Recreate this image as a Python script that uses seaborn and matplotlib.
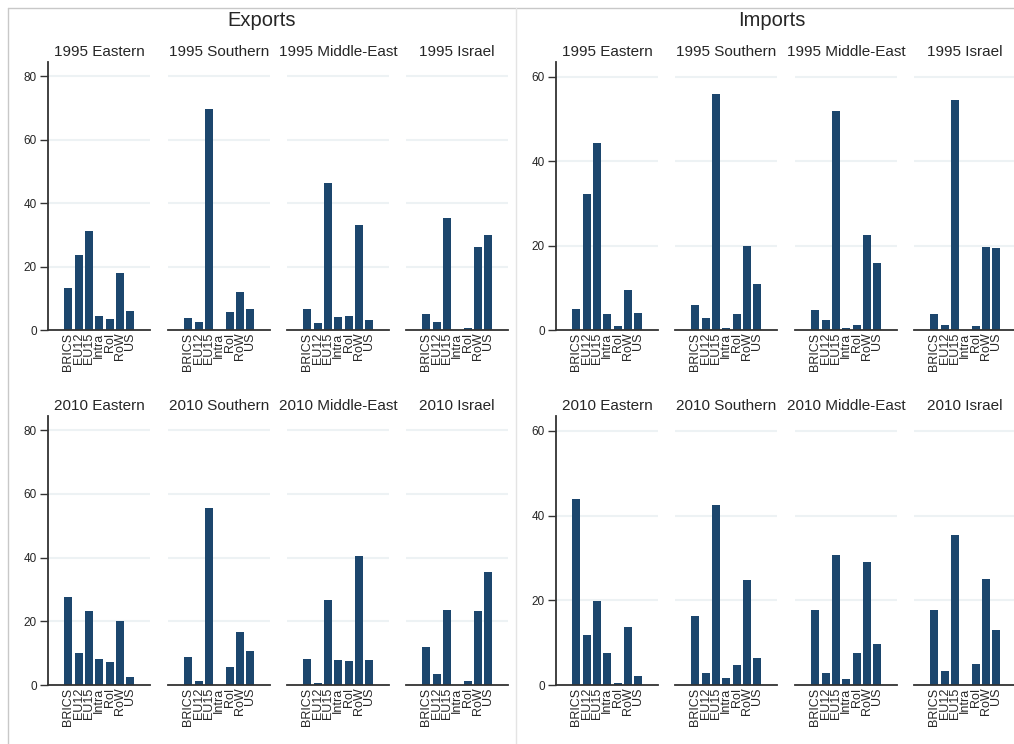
import seaborn as sns
import matplotlib.pyplot as plt
import matplotlib.lines as mlines

# ======================================
# DATA
# ======================================

partners = ["BRICS", "EU12", "EU15", "Intra", "RoI", "RoW", "US"]
regions = ["Eastern", "Southern", "Middle-East", "Israel"]
years = ["1995", "2010"]

# one row per region, values in partner order
exports_1995 = [
    [13.4, 23.5, 31.3, 4.5, 3.4, 18.1, 6.1],
    [3.7, 2.5, 69.7, 0.0, 5.6, 11.9, 6.7],
    [6.7, 2.2, 46.4, 4.0, 4.5, 33.2, 3.3],
    [5.2, 2.5, 35.2, 0.0, 0.5, 26.2, 30.0],
]
exports_2010 = [
    [27.5, 10.0, 23.3, 8.1, 7.3, 20.2, 2.6],
    [8.8, 1.1, 55.6, 0.0, 5.8, 16.6, 10.6],
    [8.1, 0.6, 26.7, 7.8, 7.4, 40.4, 7.7],
    [12.0, 3.5, 23.7, 0.0, 1.1, 23.3, 35.4],
]
imports_1995 = [
    [5.0, 32.2, 44.4, 3.8, 1.0, 9.4, 4.1],
    [6.0, 2.8, 56.0, 0.4, 3.9, 19.9, 10.9],
    [4.7, 2.4, 52.0, 0.4, 1.3, 22.5, 15.9],
    [3.9, 1.3, 54.6, 0.0, 1.0, 19.7, 19.4],
]
imports_2010 = [
    [44.0, 11.9, 19.9, 7.5, 0.5, 13.7, 2.1],
    [16.3, 2.8, 42.5, 1.7, 4.7, 24.8, 6.4],
    [17.7, 2.8, 30.6, 1.4, 7.5, 29.1, 9.6],
    [17.7, 3.2, 35.5, 0.0, 4.9, 25.0, 13.1],
]

# ======================================
# STYLE
# ======================================

sns.set_style("white")
plt.rcParams["font.family"] = ["Liberation Sans", "DejaVu Sans"]

BAR = "#1c466d"
GRID = "#edf2f4"
AXIS = "#333333"

W, H = 1014, 744
fig = plt.figure(figsize=(W / 100, H / 100), dpi=100)


def px_axes(x0, x1, ytop, ybot):
    return fig.add_axes([x0 / W, 1 - ybot / H, (x1 - x0) / W, (ybot - ytop) / H])


panels = [
    ("Exports", [exports_1995, exports_2010], [48, 168, 287, 406], 84.5,
     [0, 20, 40, 60, 80], 262),
    ("Imports", [imports_1995, imports_2010], [556, 675, 795, 914], 63.5,
     [0, 20, 40, 60], 772),
]
rows = [(62, 330), (416, 685)]
ax_w = 102

for name, data, lefts, ymax, yticks, title_x in panels:
    for r, (ytop, ybot) in enumerate(rows):
        for c, x0 in enumerate(lefts):
            ax = px_axes(x0, x0 + ax_w, ytop, ybot)
            sns.barplot(
                x=partners,
                y=data[r][c],
                ax=ax,
                color=BAR,
                width=0.78,
                saturation=1,
                linewidth=0,
            )
            ax.set_xlim(-1.95, 7.9)
            ax.set_ylim(0, ymax)
            ax.set_yticks(yticks)
            ax.yaxis.grid(True, color=GRID, linewidth=1.5)
            ax.set_axisbelow(True)
            for s in ["top", "right"]:
                ax.spines[s].set_visible(False)
            ax.spines["bottom"].set_color(AXIS)
            ax.spines["bottom"].set_linewidth(1.3)
            ax.tick_params(axis="x", length=0, pad=2, labelsize=9, rotation=90)
            for lab in ax.get_xticklabels():
                lab.set_verticalalignment("top")
            if c == 0:
                ax.spines["left"].set_color(AXIS)
                ax.spines["left"].set_linewidth(1.3)
                ax.tick_params(axis="y", length=6, width=1, color=AXIS,
                               labelsize=8.5, pad=2, left=True)
            else:
                ax.spines["left"].set_visible(False)
                ax.tick_params(axis="y", left=False, labelleft=False)
            ax.set_xlabel("")
            ax.set_ylabel("")
            ax.set_title(f"{years[r]} {regions[c]}", fontsize=11, pad=4)
    fig.text(title_x / W, 1 - 20 / H, name, ha="center", va="center", fontsize=14.5)

# frame lines around the two panels
border = "#c8c8c8"
fig.add_artist(mlines.Line2D([8 / W, 1], [1 - 8 / H, 1 - 8 / H], color=border, lw=1))
fig.add_artist(mlines.Line2D([8 / W, 8 / W], [0, 1 - 8 / H], color=border, lw=1))
fig.add_artist(mlines.Line2D([516 / W, 516 / W], [0, 1 - 8 / H], color="#e4e4e4", lw=1))

plt.savefig("out.png", dpi=100)
plt.close()
